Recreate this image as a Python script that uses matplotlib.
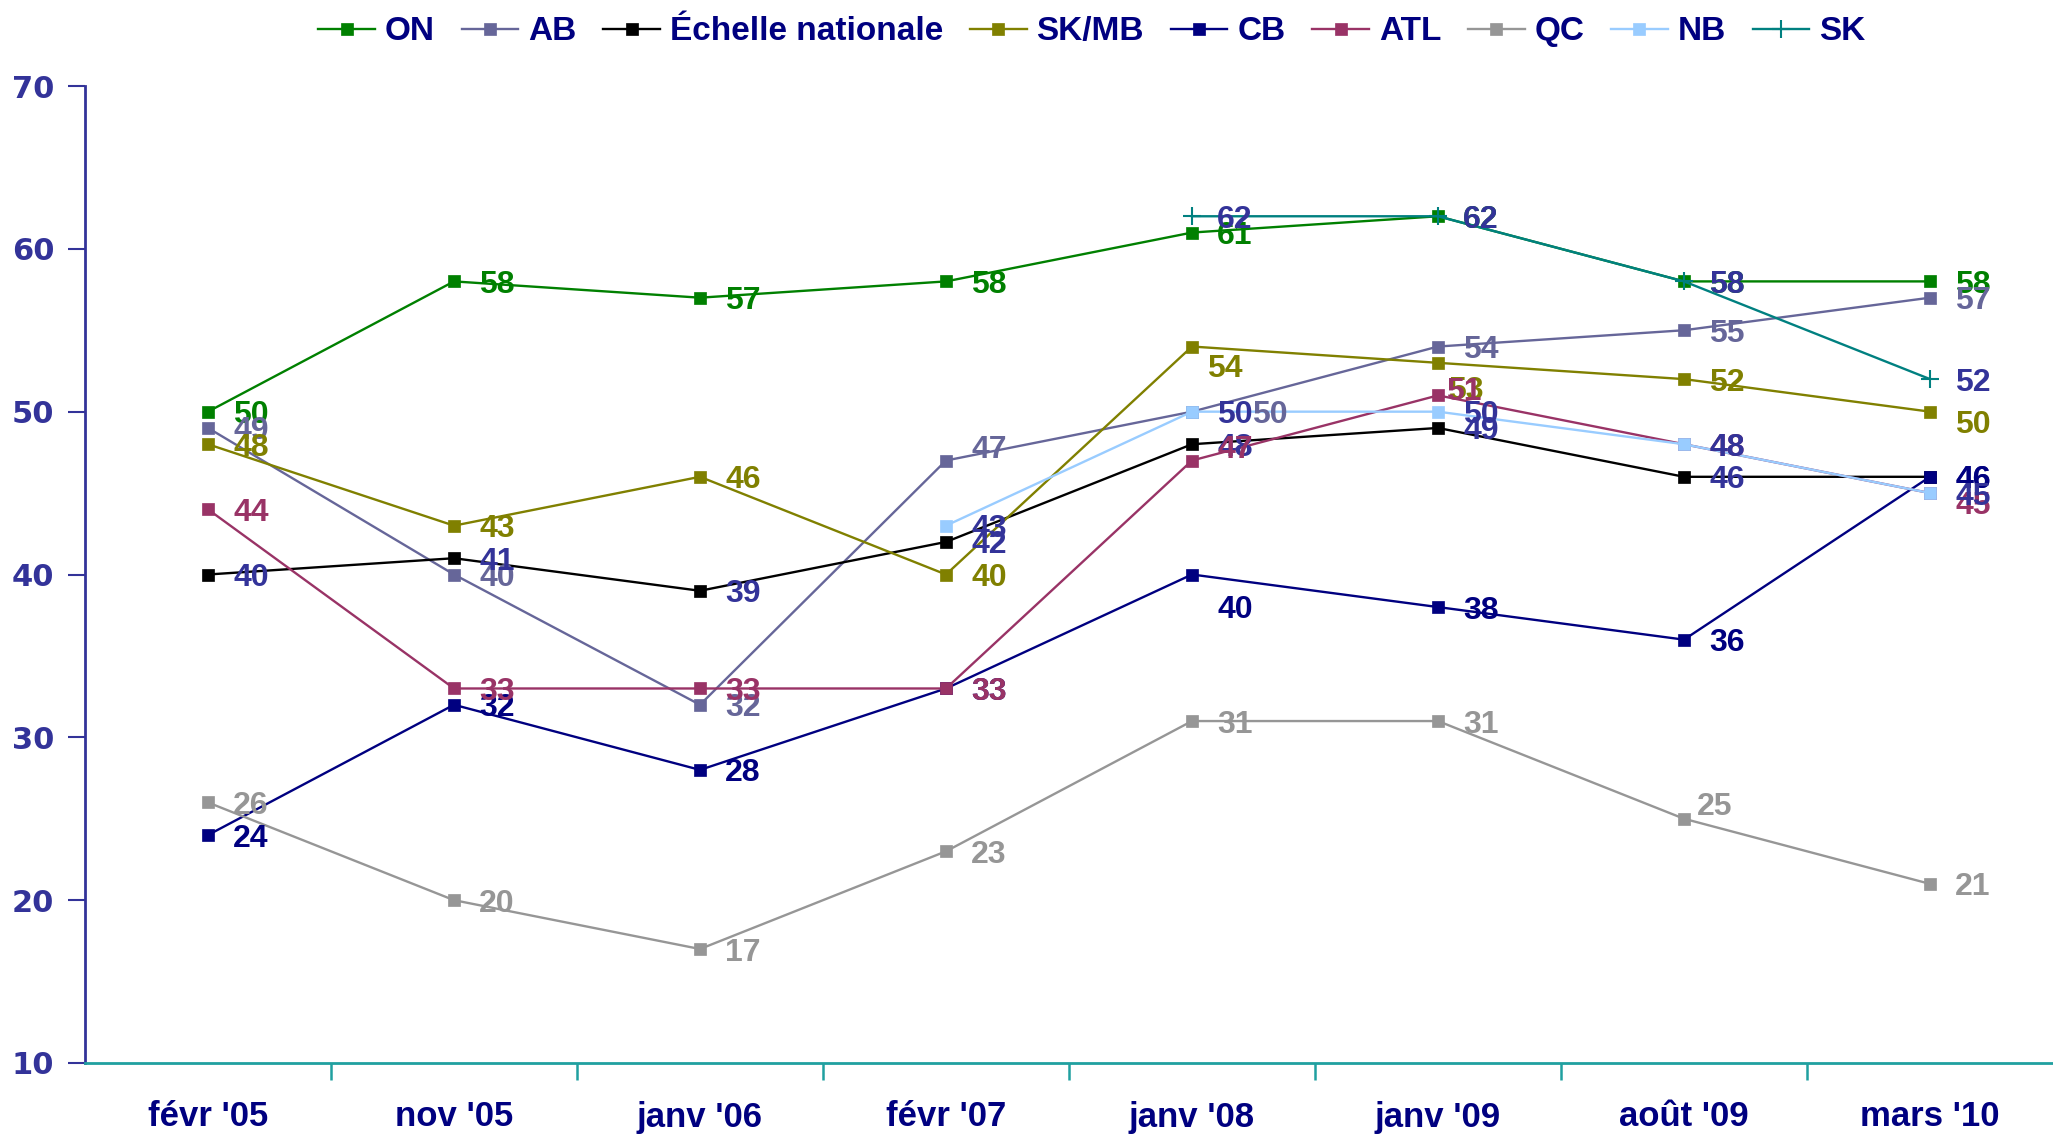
import matplotlib.pyplot as plt
import numpy as np

plt.rcParams['font.family'] = ['Liberation Sans', 'DejaVu Sans']
plt.rcParams['font.weight'] = 'bold'

# Survey dates
dates = ["févr '05", "nov '05", "janv '06", "févr '07", "janv '08", "janv '09", "août '09", "mars '10"]

# Values per region (None = not surveyed)
on_vals = [50, 58, 57, 58, 61, 62, 58, 58]
ab_vals = [49, 40, 32, 47, 50, 54, 55, 57]
nat_vals = [40, 41, 39, 42, 48, 49, 46, 46]
skmb_vals = [48, 43, 46, 40, 54, 53, 52, 50]
cb_vals = [24, 32, 28, 33, 40, 38, 36, 46]
atl_vals = [44, 33, 33, 33, 47, 51, 48, 45]
qc_vals = [26, 20, 17, 23, 31, 31, 25, 21]
nb_vals = [None, None, None, 43, 50, 50, 48, 45]
sk_vals = [None, None, None, None, 62, 62, 58, 52]

# name, values, line colour, label colour, marker
series = [
    ('ON', on_vals, '#008000', '#008000', 's'),
    ('AB', ab_vals, '#666699', '#666699', 's'),
    ('Échelle nationale', nat_vals, '#000000', '#333399', 's'),
    ('SK/MB', skmb_vals, '#808000', '#808000', 's'),
    ('CB', cb_vals, '#000080', '#000080', 's'),
    ('ATL', atl_vals, '#993366', '#993366', 's'),
    ('QC', qc_vals, '#969696', '#969696', 's'),
    ('NB', nb_vals, '#99CCFF', '#333399', 's'),
    ('SK', sk_vals, '#008080', '#333399', '+'),
]

# labels that were moved by hand in the original (offset in points)
label_offsets = {
    ('AB', 4): (43, 0),
    ('SK/MB', 4): (11, -14),
    ('ATL', 4): (18, 10),
    ('CB', 4): (18, -23),
    ('SK/MB', 5): (7, -18),
    ('ATL', 5): (6, 5),
    ('AB', 3): (18, 10),
    ('QC', 6): (9, 11),
    ('SK/MB', 7): (18, -7),
    ('ATL', 7): (18, -7),
}

fig = plt.figure(figsize=(20.53, 11.39), dpi=100)
ax = fig.add_axes([85 / 2053, 76 / 1139, 1 - 85 / 2053, 977 / 1139])

x = np.arange(len(dates))
for i, (name, vals, col, lcol, mk) in enumerate(series):
    y = np.array([np.nan if v is None else v for v in vals], dtype=float)
    ax.plot(x, y, color=col, lw=1.7, marker=mk,
            markersize=9 if mk == 's' else 13, markeredgewidth=1.5 if mk == '+' else 0.5,
            label=name, zorder=3 + i)
    for j, v in enumerate(vals):
        if v is None:
            continue
        dx, dy = label_offsets.get((name, j), (18, 0))
        ax.annotate(str(v), (x[j], v), xytext=(dx, dy), textcoords='offset points',
                    ha='left', va='center_baseline', fontsize=23, fontweight='bold',
                    color=lcol, zorder=20 + i)

ax.set_xlim(-0.5, len(dates) - 0.5)
ax.set_ylim(10, 70)
ax.set_yticks(range(10, 71, 10))

ax.set_xticks(x)
ax.set_xticklabels(dates)
ax.set_xticks(x[:-1] + 0.5, minor=True)
ax.tick_params(axis='x', which='major', length=0, pad=27, labelsize=25, labelcolor='#000080')
ax.tick_params(axis='x', which='minor', length=12, width=1.8, color='#20A0A0', direction='out')
ax.tick_params(axis='y', length=12, width=1.5, color='#333399', direction='out',
               pad=10, labelcolor='#333399')
for lab in ax.get_xticklabels():
    lab.set_fontweight('bold')
for lab in ax.get_yticklabels():
    lab.set_fontweight('bold')
    lab.set_fontfamily('DejaVu Sans')
    lab.set_fontsize(22)

ax.spines['top'].set_visible(False)
ax.spines['right'].set_visible(False)
ax.spines['left'].set_color('#333399')
ax.spines['left'].set_linewidth(2)
ax.spines['bottom'].set_color('#20A0A0')
ax.spines['bottom'].set_linewidth(2)

leg = fig.legend(loc='upper center', bbox_to_anchor=(1092 / 2053, 1.012), ncol=9,
                 frameon=False, fontsize=24, handlelength=1.7, columnspacing=0.8,
                 handletextpad=0.3)
for t in leg.get_texts():
    t.set_color('#000080')
    t.set_fontweight('bold')

fig.savefig('out.png', dpi=100)
